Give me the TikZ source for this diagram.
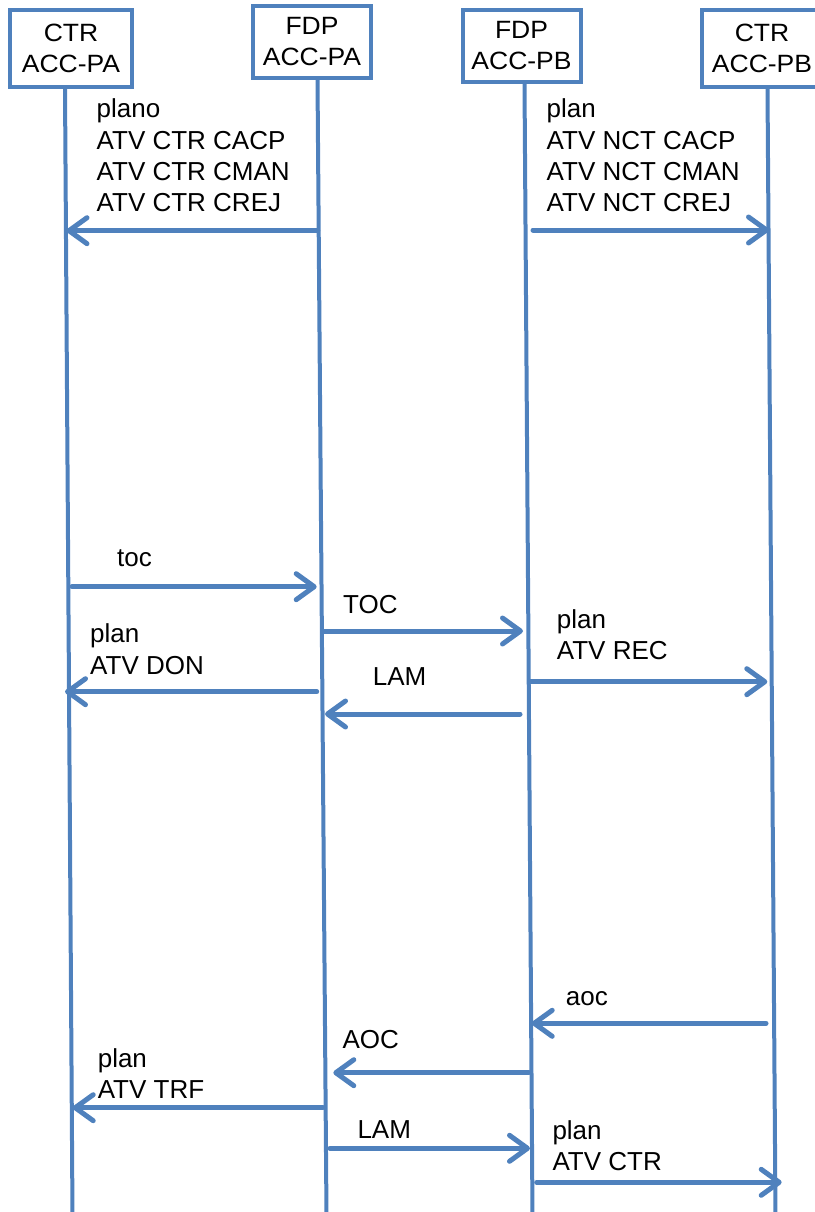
\documentclass[tikz,border=0pt]{standalone}
\usepackage{fontspec}
\setmainfont{Liberation Sans}
\newfontfamily\boxfont{Liberation Sans}[FakeStretch=1.06]
\usetikzlibrary{arrows.meta}
\definecolor{lineblue}{RGB}{79,129,189}
\pgfdeclarelayer{bg}
\pgfsetlayers{bg,main}
\begin{document}
\begin{tikzpicture}[x=1pt,y=-1pt,
  box/.style={draw=lineblue, line width=4pt, fill=white, align=center, inner sep=0pt,
    font=\boxfont\fontsize{25}{31}\selectfont},
  life/.style={draw=lineblue, line width=4pt},
  msg/.style={draw=lineblue, line width=5pt, line cap=round,
    -{Straight Barb[length=18pt,width=26pt,line width=5pt,round]}},
  lbl/.style={anchor=base west, align=left, inner sep=0pt,
    font=\fontsize{26}{31.3}\selectfont}]
\useasboundingbox (0,0) rectangle (814,1212);

% boxes
\node[box, minimum width=122pt, minimum height=77pt] (b1) at (71,48.5) {CTR\\ACC-PA};
\node[box, minimum width=118pt, minimum height=72pt] (b2) at (312,42) {FDP\\ACC-PA};
\node[box, minimum width=118pt, minimum height=72pt] (b3) at (521.5,46) {FDP\\ACC-PB};
\node[box, minimum width=120pt, minimum height=77pt] (b4) at (762,48.5) {CTR\\ACC-PB};

% lifelines
\coordinate (l1t) at (b1.south -| 65,0);
\coordinate (l2t) at (b2.south -| 317.5,0);
\coordinate (l3t) at (b3.south -| 524.5,0);
\coordinate (l4t) at (b4.south -| 767.5,0);
\coordinate (l1b) at (72.5,1216);
\coordinate (l2b) at (326.5,1216);
\coordinate (l3b) at (532.5,1216);
\coordinate (l4b) at (775.5,1216);
\begin{pgfonlayer}{bg}
\draw[life] (l1t) -- (l1b);
\draw[life] (l2t) -- (l2b);
\draw[life] (l3t) -- (l3b);
\draw[life] (l4t) -- (l4b);
\end{pgfonlayer}

% message end points
\coordinate (a1s) at (317.8,230.7);  \coordinate (a1e) at (66.5,230.7);
\coordinate (a2s) at (533,230);      \coordinate (a2e) at (769,230);
\coordinate (a3s) at (72,586.7);     \coordinate (a3e) at (316.7,586.7);
\coordinate (a4s) at (323,631);      \coordinate (a4e) at (523,631);
\coordinate (a5s) at (316.7,691.7);  \coordinate (a5e) at (65,691.7);
\coordinate (a6s) at (520,714);      \coordinate (a6e) at (325,714);
\coordinate (a7s) at (530,681.7);    \coordinate (a7e) at (767.3,681.7);
\coordinate (a8s) at (766,1023.3);   \coordinate (a8e) at (531.7,1023.3);
\coordinate (a9s) at (529,1072.7);   \coordinate (a9e) at (333.3,1072.7);
\coordinate (a10s) at (323,1107.7);  \coordinate (a10e) at (72.7,1107.7);
\coordinate (a11s) at (330,1148.3);  \coordinate (a11e) at (530,1148.3);
\coordinate (a12s) at (536.7,1182.3);\coordinate (a12e) at (781.7,1182.3);

\foreach \i in {1,...,12} {\draw[msg] (a\i s) -- (a\i e);}

% labels (anchor at baseline of last line)
\node[lbl] (t1) at (96.5,211.7) {plano\\ATV CTR CACP\\ATV CTR CMAN\\ATV CTR CREJ};
\node[lbl] (t2) at (546.5,211.7) {plan\\ATV NCT CACP\\ATV NCT CMAN\\ATV NCT CREJ};
\node[lbl] (t3) at (117,566.7) {toc};
\node[lbl] (t4) at (343,613) {TOC};
\node[lbl] (t5) at (90,674) {plan\\ATV DON};
\node[lbl] (t6) at (372.7,685) {LAM};
\node[lbl] (t7) at (556.7,659.3) {plan\\ATV REC};
\node[lbl] (t8) at (565.7,1005) {aoc};
\node[lbl] (t9) at (342.3,1048.3) {AOC};
\node[lbl] (t10) at (97.6,1098.3) {plan\\ATV TRF};
\node[lbl] (t11) at (357.3,1138.3) {LAM};
\node[lbl] (t12) at (552.3,1170.7) {plan\\ATV CTR};
\end{tikzpicture}
\end{document}
